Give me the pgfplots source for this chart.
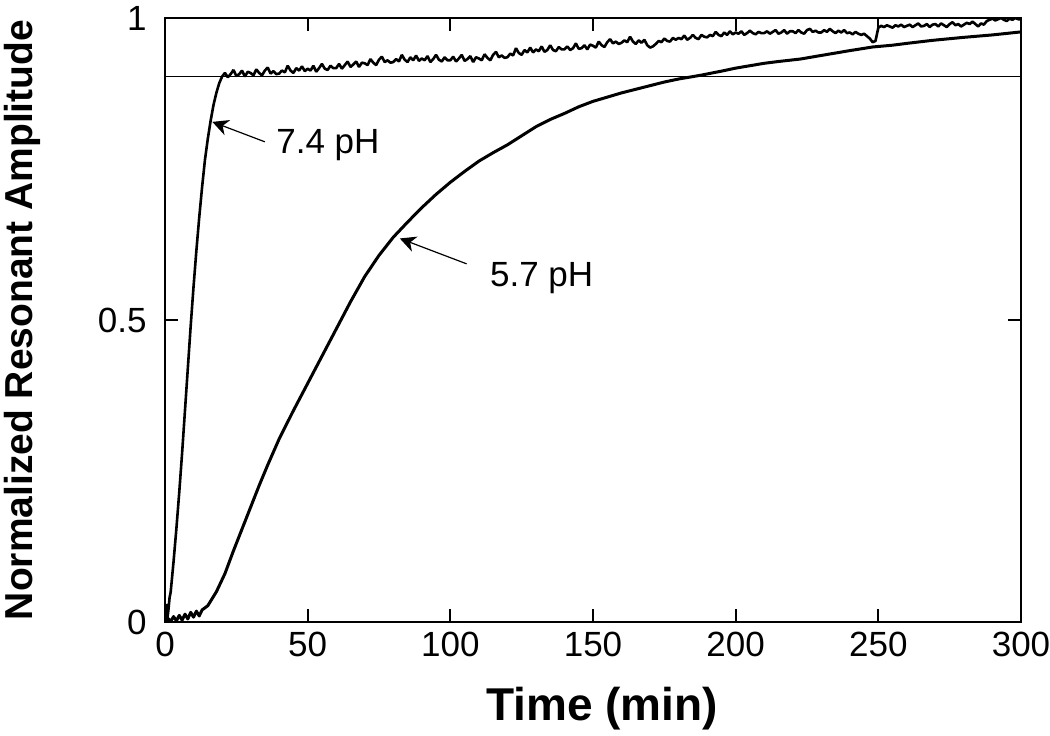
\documentclass[border=0pt]{standalone}
\usepackage{pgfplots}
\pgfplotsset{compat=1.18}
\usepackage{fontspec}
\setmainfont{Liberation Sans}
\usetikzlibrary{arrows.meta,calc}

\pgfplotstableread{
x y
0 0.000
0.4 0.030
0.8 0.005
1.2 0.020
1.6 0.040
2 0.050
3 0.100
4 0.155
5 0.215
6 0.280
7 0.350
8 0.420
9 0.490
10 0.555
11 0.615
12 0.670
13 0.720
14 0.765
15 0.800
16 0.830
17 0.856
18 0.876
19 0.892
20 0.903
21 0.909
22 0.902
23 0.907
24 0.914
25 0.904
26 0.907
27 0.913
28 0.903
29 0.911
30 0.909
31 0.905
32 0.915
33 0.909
34 0.905
35 0.913
36 0.918
37 0.908
38 0.912
39 0.907
40 0.908
41 0.913
42 0.910
43 0.921
44 0.913
45 0.909
46 0.917
47 0.913
48 0.920
49 0.912
50 0.916
51 0.913
52 0.921
53 0.911
54 0.917
55 0.924
56 0.916
57 0.914
58 0.921
59 0.917
60 0.917
61 0.924
62 0.916
63 0.922
64 0.928
65 0.919
66 0.923
67 0.928
68 0.919
69 0.926
70 0.925
71 0.922
72 0.932
73 0.926
74 0.922
75 0.931
76 0.936
77 0.927
78 0.930
79 0.926
80 0.927
81 0.932
82 0.928
83 0.939
84 0.931
85 0.927
86 0.935
87 0.930
88 0.938
89 0.929
90 0.933
91 0.930
92 0.937
93 0.927
94 0.932
95 0.939
96 0.931
97 0.928
98 0.935
99 0.930
100 0.930
101 0.936
102 0.928
103 0.933
104 0.939
105 0.929
106 0.932
107 0.937
108 0.927
109 0.935
110 0.933
111 0.930
112 0.940
113 0.934
114 0.930
115 0.939
116 0.944
117 0.935
118 0.938
119 0.934
120 0.935
121 0.941
122 0.938
123 0.950
124 0.942
125 0.939
126 0.947
127 0.943
128 0.951
129 0.943
130 0.948
131 0.945
132 0.953
133 0.944
134 0.947
135 0.955
136 0.947
137 0.945
138 0.952
139 0.948
140 0.948
141 0.953
142 0.947
143 0.950
144 0.958
145 0.949
146 0.950
147 0.955
148 0.948
149 0.956
150 0.954
151 0.951
152 0.961
153 0.955
154 0.952
155 0.960
156 0.965
157 0.958
158 0.961
159 0.957
160 0.959
161 0.963
162 0.960
163 0.969
164 0.961
165 0.957
166 0.963
167 0.959
168 0.964
169 0.955
170 0.951
171 0.953
172 0.957
173 0.962
174 0.960
175 0.966
176 0.962
177 0.961
178 0.967
179 0.964
180 0.967
181 0.965
182 0.971
183 0.964
184 0.967
185 0.972
186 0.967
187 0.965
188 0.972
189 0.969
190 0.968
191 0.972
192 0.970
193 0.977
194 0.972
195 0.970
196 0.976
197 0.972
198 0.978
199 0.973
200 0.976
201 0.974
202 0.978
203 0.972
204 0.975
205 0.979
206 0.975
207 0.973
208 0.977
209 0.975
210 0.975
211 0.978
212 0.974
213 0.977
214 0.980
215 0.974
216 0.976
217 0.980
218 0.974
219 0.978
220 0.978
221 0.975
222 0.980
223 0.976
224 0.974
225 0.980
226 0.982
227 0.977
228 0.979
229 0.976
230 0.976
231 0.980
232 0.977
233 0.982
234 0.978
235 0.975
236 0.979
237 0.976
238 0.980
239 0.975
240 0.976
241 0.973
242 0.977
243 0.974
244 0.972
245 0.974
246 0.970
247 0.966
248 0.960
249 0.962
250 0.984
251 0.987
252 0.985
253 0.988
254 0.986
255 0.984
256 0.988
257 0.986
258 0.989
259 0.985
260 0.987
261 0.989
262 0.985
263 0.988
264 0.991
265 0.986
266 0.987
267 0.990
268 0.985
269 0.989
270 0.990
271 0.986
272 0.991
273 0.988
274 0.985
275 0.990
276 0.993
277 0.988
278 0.990
279 0.986
280 0.989
281 0.992
282 0.990
283 0.994
284 0.990
285 0.986
286 0.991
287 0.989
288 0.995
289 0.997
290 0.999
291 0.996
292 0.998
293 1.000
294 0.997
295 0.995
296 0.999
297 0.997
298 1.000
299 0.998
300 0.998
}\phhigh

\pgfplotstableread{
x y
0 0.000
1 0.006
2 0.001
3 0.009
4 0.002
5 0.011
6 0.003
7 0.013
8 0.005
9 0.016
10 0.008
11 0.018
12 0.010
13 0.020
15 0.027
18 0.050
21 0.080
24 0.118
27 0.154
30 0.190
33 0.226
36 0.260
40 0.303
45 0.350
50 0.395
55 0.440
60 0.485
65 0.530
70 0.572
75 0.607
80 0.637
85 0.662
90 0.686
95 0.708
100 0.728
105 0.746
110 0.763
115 0.777
120 0.790
125 0.805
130 0.820
135 0.832
140 0.842
145 0.853
150 0.862
155 0.869
160 0.876
165 0.882
170 0.888
175 0.894
180 0.899
187.5 0.905
195 0.912
200 0.917
205 0.921
210 0.925
215 0.928
222.6 0.932
230 0.938
240 0.946
248 0.952
255 0.955
260 0.958
269 0.963
280 0.968
290 0.972
300 0.977
}\phlow

\begin{document}
\begin{tikzpicture}
\begin{axis}[
  name=ax,
  scale only axis,
  width=428pt, height=302pt,
  xmin=0, xmax=300, ymin=0, ymax=1,
  xtick={0,50,100,150,200,250,300},
  ytick={0,0.5,1},
  tick pos=both,
  tick align=inside,
  major tick length=6.5pt,
  axis line style={line width=1pt},
  tick style={line width=0.9pt, black},
  ticklabel style={font=\fontsize{17.5}{20}\selectfont},
  /pgf/number format/assume math mode=true,
  yticklabel style={xshift=-5.7pt},
  xticklabel style={yshift=-1.7pt},
]
\addplot[line width=0.8pt, black] coordinates {(0,0.903) (300,0.903)};
\addplot[line width=1.5pt, black, line join=round] table[x=x,y=y] {\phlow};
\addplot[line width=1.3pt, black, line join=bevel] table[x=x,y=y] {\phhigh};
\draw[line width=0.6pt, -{Stealth[length=8pt,width=8pt,inset=2.5pt]}] (axis cs:35,0.795) -- (axis cs:16.6,0.828);
\draw[line width=0.6pt, -{Stealth[length=8pt,width=8pt,inset=2.5pt]}] (axis cs:105.7,0.593) -- (axis cs:82.3,0.635);
\node[anchor=base west, inner sep=0pt, font=\fontsize{17.5}{20}\selectfont] at (axis cs:38.9,0.776) {7.4 pH};
\node[anchor=base west, inner sep=0pt, font=\fontsize{17.5}{20}\selectfont] at (axis cs:113.8,0.555) {5.7 pH};
\end{axis}
\node[anchor=base, font=\bfseries\fontsize{23}{26}\selectfont] at ([xshift=4.5pt,yshift=-49pt]ax.south) {Time (min)};
\node[rotate=90, anchor=base, font=\bfseries\fontsize{19.5}{22}\selectfont] at ([xshift=-66pt]ax.west) {Normalized Resonant Amplitude};
\pgfresetboundingbox
\path ($(ax.south west)+(-82.5pt,-56.5pt)$) rectangle ($(ax.north east)+(14.5pt,9pt)$);
\end{tikzpicture}
\end{document}
